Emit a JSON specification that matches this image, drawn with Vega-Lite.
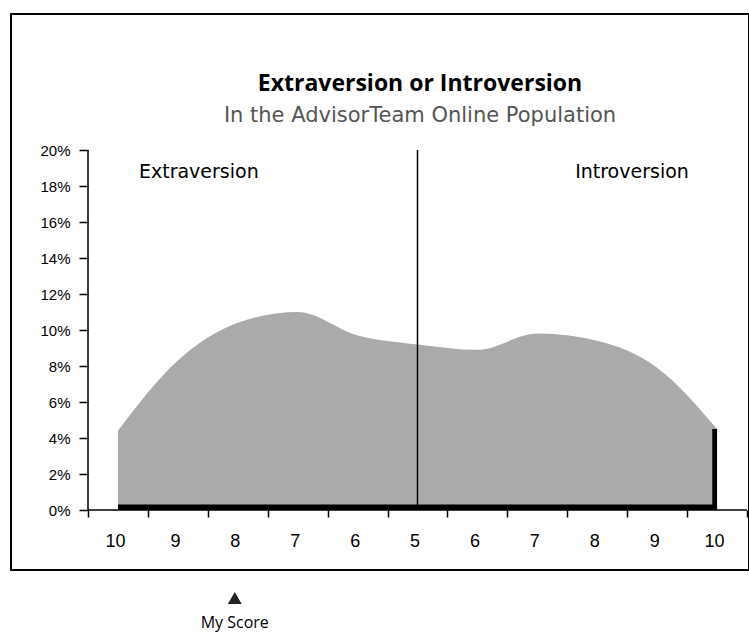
{
  "$schema": "https://vega.github.io/schema/vega-lite/v6.json",
  "width": 738,
  "height": 556,
  "autosize": "none",
  "padding": {"left": 11, "top": 14, "right": 0, "bottom": 72},
  "background": "white",
  "config": {
    "view": {"stroke": "black", "strokeWidth": 2},
    "font": "Liberation Sans"
  },
  "title": {
    "text": "Extraversion or Introversion",
    "subtitle": "In the AdvisorTeam Online Population",
    "anchor": "middle",
    "frame": "group",
    "offset": -112,
    "dx": 40,
    "font": "Open Sans",
    "fontSize": 23,
    "fontWeight": "bold",
    "color": "black",
    "subtitleFont": "DejaVu Sans",
    "subtitleFontSize": 21,
    "subtitleColor": "#555555",
    "subtitlePadding": 9
  },
  "datasets": {
    "dist": [
      {"pos": 0.5, "score": "10", "side": "Extraversion", "pct": 0.044},
      {"pos": 1.5, "score": "9", "side": "Extraversion", "pct": 0.083},
      {"pos": 2.5, "score": "8", "side": "Extraversion", "pct": 0.104},
      {"pos": 3.5, "score": "7", "side": "Extraversion", "pct": 0.110},
      {"pos": 4.5, "score": "6", "side": "Extraversion", "pct": 0.097},
      {"pos": 5.5, "score": "5", "side": "Middle", "pct": 0.092},
      {"pos": 6.5, "score": "6", "side": "Introversion", "pct": 0.089},
      {"pos": 7.5, "score": "7", "side": "Introversion", "pct": 0.098},
      {"pos": 8.5, "score": "8", "side": "Introversion", "pct": 0.094},
      {"pos": 9.5, "score": "9", "side": "Introversion", "pct": 0.079},
      {"pos": 10.5, "score": "10", "side": "Introversion", "pct": 0.045}
    ],
    "depth": [
      {"part": "floor", "pos": 0.5, "pos2": 10.5, "pct": 0, "pct2": 0.003},
      {"part": "side", "pos": 10.42, "pos2": 10.5, "pct": 0, "pct2": 0.045}
    ],
    "lines": [
      {"part": "divider", "pos": 5.5, "pos2": 5.5, "pct": 0, "pct2": 0.2},
      {"part": "yaxis", "pos": 0, "pos2": 0, "pct": 0, "pct2": 0.2},
      {"part": "xaxis", "pos": 0, "pos2": 11, "pct": 0, "pct2": 0}
    ],
    "labels": [
      {"pos": 1.85, "pct": 0.1878, "text": "Extraversion"},
      {"pos": 9.08, "pct": 0.1878, "text": "Introversion"}
    ],
    "myscore": [
      {"pos": 2.45, "pct": -0.0489, "label": "My Score", "labelPct": -0.0628}
    ]
  },
  "encoding": {
    "x": {
      "field": "pos", "type": "quantitative", "title": null,
      "scale": {"domain": [-1.2853, 11.0334], "nice": false, "zero": false},
      "axis": {
        "orient": "bottom", "offset": -60, "values": [0,1,2,3,4,5,6,7,8,9,10,11],
        "labelExpr": "datum.value < 11 ? '' + (abs(datum.value - 5) + 5) : ''",
        "labelOffset": 27, "domain": false, "grid": false, "tickSize": 7,
        "tickColor": "black", "tickWidth": 1.5, "labelFontSize": 18, "labelColor": "black",
        "labelPadding": 15, "title": null, "labelFont": "Liberation Sans"
      }
    },
    "y": {
      "field": "pct", "type": "quantitative", "title": null,
      "scale": {"domain": [-0.03333, 0.27556], "nice": false, "zero": false},
      "axis": {
        "orient": "left", "offset": -77, "values": [0,0.02,0.04,0.06,0.08,0.1,0.12,0.14,0.16,0.18,0.2],
        "format": ".0%", "domain": false, "grid": false, "tickSize": 9,
        "tickColor": "black", "tickWidth": 1.5, "labelFontSize": 15, "labelColor": "black",
        "labelPadding": 9, "title": null, "labelFont": "Liberation Sans"
      }
    }
  },
  "layer": [
    {
      "data": {"name": "dist"},
      "mark": {"type": "area", "interpolate": "monotone", "fill": "#aaaaaa"}
    },
    {
      "data": {"name": "depth"},
      "mark": {"type": "rect", "fill": "black"},
      "encoding": {
        "x2": {"field": "pos2"},
        "y2": {"field": "pct2"}
      }
    },
    {
      "data": {"name": "lines"},
      "mark": {"type": "rule", "color": "black", "strokeWidth": 1.5},
      "encoding": {
        "x2": {"field": "pos2"},
        "y2": {"field": "pct2"}
      }
    },
    {
      "data": {"name": "labels"},
      "mark": {"type": "text", "font": "DejaVu Sans", "fontSize": 19, "color": "black", "align": "center", "baseline": "middle"},
      "encoding": {
        "text": {"field": "text"}
      }
    },
    {
      "data": {"name": "myscore"},
      "mark": {"type": "point", "shape": "triangle-up", "filled": true, "color": "#222222", "size": 190, "opacity": 1}
    },
    {
      "data": {"name": "myscore"},
      "mark": {"type": "text", "font": "Open Sans", "fontSize": 16, "color": "black", "align": "center", "baseline": "middle"},
      "encoding": {
        "y": {"field": "labelPct", "type": "quantitative"},
        "text": {"field": "label"}
      }
    }
  ]
}
